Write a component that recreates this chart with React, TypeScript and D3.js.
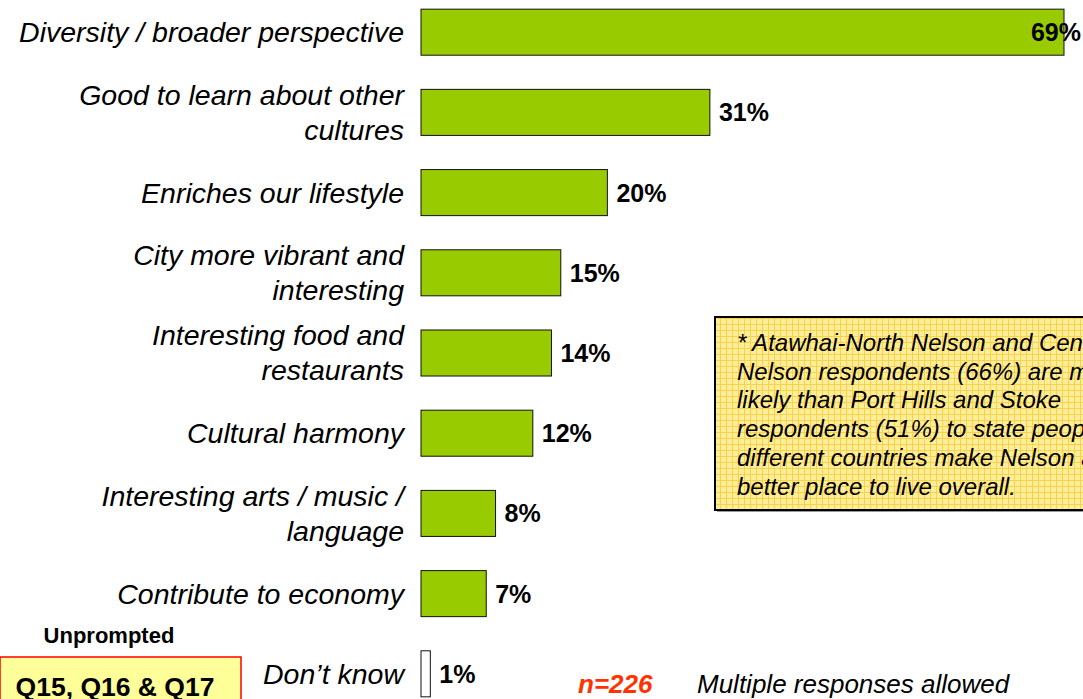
import React from "react";
import * as d3 from "d3";

const categories = [
  "Diversity / broader perspective",
  "Good to learn about other\ncultures",
  "Enriches our lifestyle",
  "City more vibrant and\ninteresting",
  "Interesting food and\nrestaurants",
  "Cultural harmony",
  "Interesting arts / music /\nlanguage",
  "Contribute to economy",
  "Don\u2019t know",
];
const values = [69, 31, 20, 15, 14, 12, 8, 7, 1];
const valueLabels = ["69%", "31%", "20%", "15%", "14%", "12%", "8%", "7%", "1%"];
const barColors = ["#99CC00", "#99CC00", "#99CC00", "#99CC00", "#99CC00", "#99CC00", "#99CC00", "#99CC00", "#FFFFFF"];
const noteLines = [
  "* Atawhai-North Nelson and Central",
  "Nelson respondents (66%) are more",
  "likely than Port Hills and Stoke",
  "respondents (51%) to state people from",
  "different countries make Nelson a",
  "better place to live overall.",
];

const W = 1083;
const H = 699;
const FONT = "'Liberation Sans', Arial, Helvetica, sans-serif";

export default function App() {
  const x = d3.scaleLinear().domain([0, 69]).range([421, 1064]);
  const y = d3.scaleBand<string>().domain(categories).range([-25, 731]).padding(0.426);
  const bw = y.bandwidth();

  return (
    <svg width={W} height={H} style={{ position: "absolute", left: 0, top: 0, background: "#fff" }} fontFamily={FONT}>
      <defs>
        <pattern id="grid" width="6" height="6" patternUnits="userSpaceOnUse">
          <rect width="6" height="6" fill="#FFEE99" />
          <path d="M0 0.5 H6 M0.5 0 V6" stroke="#F7D24A" strokeWidth="1" />
        </pattern>
      </defs>
      {categories.map((c, i) => {
        const cy = (y(c) as number) + bw / 2;
        const lines = c.split("\n");
        const lh = 35;
        const v = values[i];
        const x1 = x(v);
        const inside = x1 + 60 > W;
        return (
          <g key={c}>
            <rect x={x(0)} y={y(c)} width={x1 - x(0)} height={bw} fill={barColors[i]} stroke="#111" strokeWidth={1} />
            <text fontStyle="italic" fontSize={28.5} textAnchor="end" fill="#000">
              {lines.map((l, k) => (
                <tspan key={k} x={404} y={cy - ((lines.length - 1) * lh) / 2 + k * lh} dy="0.35em">
                  {l}
                </tspan>
              ))}
            </text>
            <text
              x={inside ? W - 2 : x1 + 9}
              y={cy}
              dy="0.36em"
              fontWeight="bold"
              fontSize={25}
              textAnchor={inside ? "end" : "start"}
              fill="#000"
            >
              {valueLabels[i]}
            </text>
          </g>
        );
      })}

      {/* note box */}
      <rect x={717} y={319} width={400} height={193} fill="#999" />
      <rect x={715} y={317} width={400} height={193} fill="url(#grid)" stroke="#000" strokeWidth={2} />
      <text fontStyle="italic" fontSize={24} fill="#000">
        {noteLines.map((l, k) => (
          <tspan key={k} x={737} y={351 + k * 28.7}>
            {l}
          </tspan>
        ))}
      </text>

      {/* bottom-left */}
      <text x={109} y={643} textAnchor="middle" fontWeight="bold" fontSize={22}>
        Unprompted
      </text>
      <rect x={0} y={657} width={241} height={50} fill="#FFFF99" stroke="#FF0000" strokeWidth={1.5} />
      <text x={115} y={696} textAnchor="middle" fontWeight="bold" fontSize={26.5}>
        Q15, Q16 &amp; Q17
      </text>

      <text x={578} y={693} fontWeight="bold" fontStyle="italic" fontSize={26} fill="#FF3300">
        n=226
      </text>
      <text x={697} y={693} fontStyle="italic" fontSize={26} fill="#000">
        Multiple responses allowed
      </text>
    </svg>
  );
}
